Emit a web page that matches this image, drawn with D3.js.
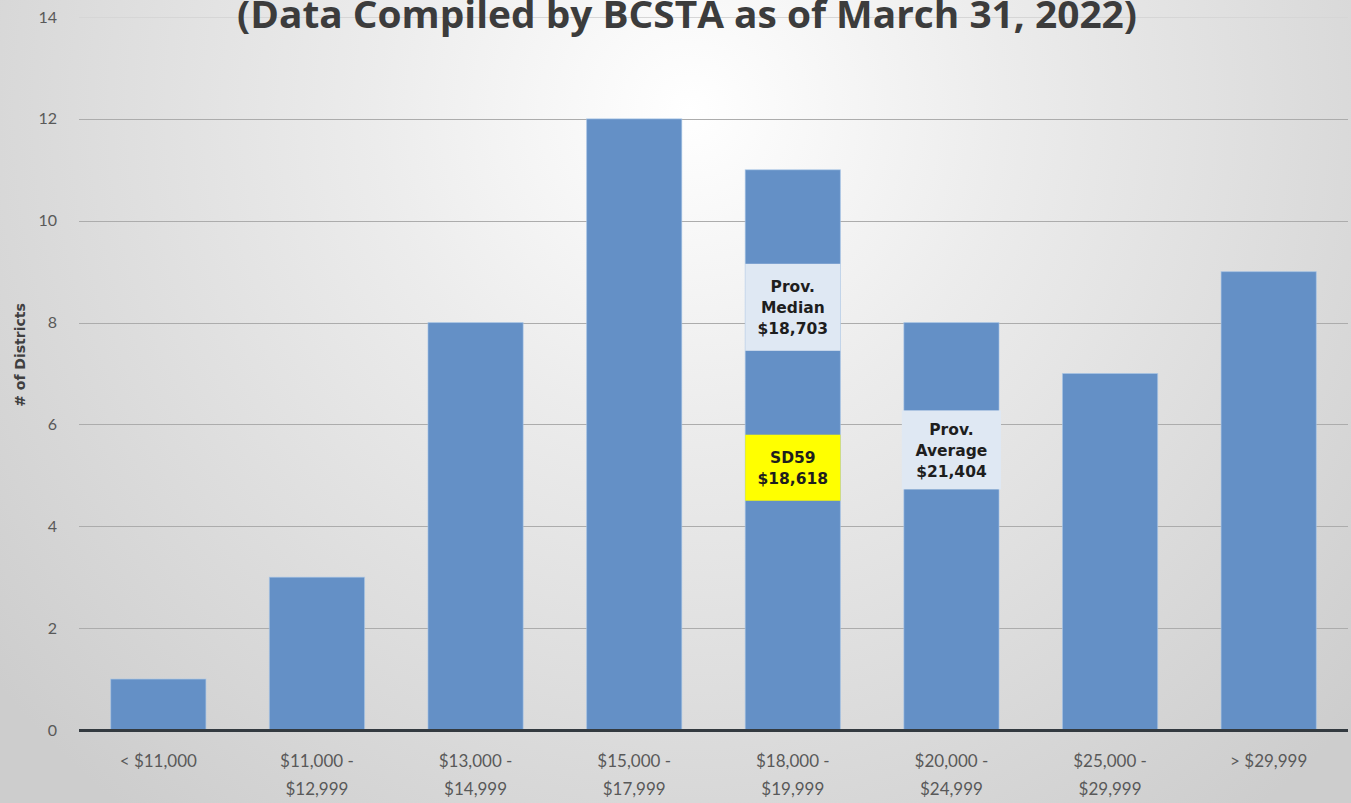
<!DOCTYPE html>
<html>
<head>
<meta charset="utf-8">
<script src="https://cdn.jsdelivr.net/npm/d3@7"></script>
<style>
  html, body { margin: 0; padding: 0; overflow: hidden; }
  svg { display: block; }
</style>
</head>
<body>
<svg id="chart" width="1351" height="803"></svg>
<script>
// Per-pupil funding bands and number of districts in each
const categories = [
  ["< $11,000"],
  ["$11,000 -", "$12,999"],
  ["$13,000 -", "$14,999"],
  ["$15,000 -", "$17,999"],
  ["$18,000 -", "$19,999"],
  ["$20,000 -", "$24,999"],
  ["$25,000 -", "$29,999"],
  ["> $29,999"]
];
const districts = [1, 3, 8, 12, 11, 8, 7, 9];
const yTicks = [0, 2, 4, 6, 8, 10, 12, 14];

// Callouts placed on bars: band index, vertical centre (in # of districts), lines
const calloutBand = [4, 4, 5];
const calloutLevel = [8.3, 5.15, 5.5];
const calloutLines = [
  ["Prov.", "Median", "$18,703"],
  ["SD59", "$18,618"],
  ["Prov.", "Average", "$21,404"]
];
const calloutFill = ["#dfe8f3", "#ffff00", "#dfe8f3"];

const titleText = "(Data Compiled by BCSTA as of March 31, 2022)";
const yTitle = "# of Districts";

const W = 1351, H = 803;
const svg = d3.select("#chart");

// Soft radial backdrop
const defs = svg.append("defs");
const grad = defs.append("radialGradient")
  .attr("id", "bg").attr("gradientUnits", "userSpaceOnUse")
  .attr("cx", 690).attr("cy", 110).attr("r", 900);
grad.append("stop").attr("offset", "0%").attr("stop-color", "#ffffff");
grad.append("stop").attr("offset", "35%").attr("stop-color", "#ececec");
grad.append("stop").attr("offset", "100%").attr("stop-color", "#cdcdcd");
svg.append("rect").attr("width", W).attr("height", H).attr("fill", "url(#bg)");

const plot = { left: 79, right: 1348, top: 17, bottom: 730 };

const x = d3.scaleBand()
  .domain(d3.range(categories.length))
  .range([plot.left, plot.right])
  .paddingInner(0.4)
  .paddingOuter(0.2);

const y = d3.scaleLinear().domain([0, 14]).range([plot.bottom, plot.top]);

// Horizontal gridlines
svg.append("g")
  .selectAll("line")
  .data(yTicks.filter(d => d > 0))
  .join("line")
  .attr("x1", plot.left).attr("x2", plot.right)
  .attr("y1", d => Math.round(y(d)) + 0.5).attr("y2", d => Math.round(y(d)) + 0.5)
  .attr("stroke", d => d === 14 ? "#d6d6d6" : "#acacac")
  .attr("stroke-width", 1);

// Y axis tick labels
const yAxis = d3.axisLeft(y).tickValues(yTicks).tickSize(0).tickPadding(0);
const yg = svg.append("g").attr("transform", `translate(57,0)`).call(yAxis);
yg.select(".domain").remove();
yg.selectAll("text")
  .attr("font-family", "Lato, 'Open Sans', sans-serif")
  .attr("font-size", 16)
  .attr("fill", "#595959");

// Bars
svg.append("g")
  .selectAll("rect")
  .data(districts)
  .join("rect")
  .attr("x", (d, i) => x(i))
  .attr("width", x.bandwidth())
  .attr("y", d => y(d))
  .attr("height", d => y(0) - y(d))
  .attr("fill", "#6490c6")
  .attr("stroke", "#a9c6e8")
  .attr("stroke-opacity", 0.6)
  .attr("stroke-width", 1);

// Baseline
svg.append("line")
  .attr("x1", plot.left).attr("x2", plot.right)
  .attr("y1", y(0) + 0.5).attr("y2", y(0) + 0.5)
  .attr("stroke", "#333a40").attr("stroke-width", 3);

// X axis category labels (two lines)
const xg = svg.append("g")
  .attr("font-family", "Lato, 'Open Sans', sans-serif")
  .attr("font-size", 17)
  .attr("fill", "#595959")
  .attr("text-anchor", "middle");
categories.forEach((lines, i) => {
  const t = xg.append("text")
    .attr("x", x(i) + x.bandwidth() / 2)
    .attr("y", 767);
  lines.forEach((ln, k) => {
    t.append("tspan")
      .attr("x", x(i) + x.bandwidth() / 2)
      .attr("dy", k === 0 ? 0 : 28)
      .text(ln);
  });
});

// Callout boxes on bars
const lineGap = 21;
const boxPad = [24, 24, 16];
calloutLines.forEach((lines, j) => {
  const i = calloutBand[j];
  const cx = x(i) + x.bandwidth() / 2;
  const cy = y(calloutLevel[j]);
  const boxH = lines.length * lineGap + boxPad[j];
  const boxW = x.bandwidth() + (j === 2 ? 4 : 0);
  svg.append("rect")
    .attr("x", cx - boxW / 2)
    .attr("y", cy - boxH / 2)
    .attr("width", boxW)
    .attr("height", boxH)
    .attr("fill", calloutFill[j]);
  const t = svg.append("text")
    .attr("font-family", "'DejaVu Sans', Verdana, sans-serif")
    .attr("font-weight", "bold")
    .attr("font-size", 15.5)
    .attr("fill", "#1e1e1e")
    .attr("text-anchor", "middle");
  lines.forEach((ln, k) => {
    t.append("tspan")
      .attr("x", cx)
      .attr("y", cy - (lines.length - 1) * lineGap / 2 + k * lineGap + 6)
      .text(ln);
  });
});

// Y axis title
svg.append("text")
  .attr("transform", "translate(25,355) rotate(-90)")
  .attr("text-anchor", "middle")
  .attr("font-family", "'DejaVu Sans', Verdana, sans-serif")
  .attr("font-weight", "bold")
  .attr("font-size", 14)
  .attr("fill", "#404040")
  .text(yTitle);

// Chart title (upper portion sits above the visible area)
svg.append("text")
  .attr("x", 687)
  .attr("y", 28)
  .attr("text-anchor", "middle")
  .attr("font-family", "'Open Sans', sans-serif")
  .attr("font-weight", "bold")
  .attr("font-size", 37)
  .attr("fill", "#3c3c3c")
  .attr("textLength", 900)
  .attr("lengthAdjust", "spacingAndGlyphs")
  .text(titleText);
</script>
</body>
</html>
